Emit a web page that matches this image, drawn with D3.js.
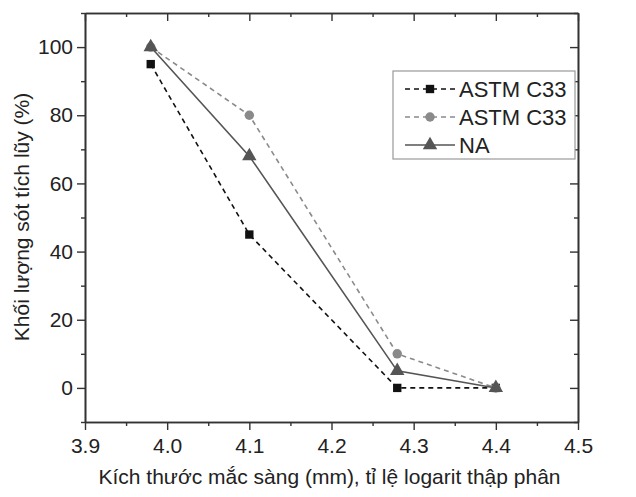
<!DOCTYPE html>
<html>
<head>
<meta charset="utf-8">
<script src="https://cdn.jsdelivr.net/npm/d3@7"></script>
<style>
  body { margin: 0; background: #fff; }
  svg text { font-family: "Liberation Sans", Arial, sans-serif; fill: #222; }
</style>
</head>
<body>
<div id="chart"></div>
<script>
const sieveLog = [3.98, 4.10, 4.28, 4.40];
const astmLower = [95, 45, 0, 0];
const astmUpper = [100, 80, 10, 0];
const naValues = [100, 68, 5, 0];
const seriesNames = ['ASTM C33', 'ASTM C33', 'NA'];
const xTicks = [3.9, 4.0, 4.1, 4.2, 4.3, 4.4, 4.5];
const yTicks = [0, 20, 40, 60, 80, 100];

function drawChart() {
    const W = 636, H = 497;
    const margin = { top: 13, right: 58, bottom: 75, left: 85 };
    const width = W - margin.left - margin.right;
    const height = H - margin.top - margin.bottom;

    const svg = d3.select('#chart').append('svg')
        .attr('width', W)
        .attr('height', H);

    const g = svg.append('g')
        .attr('transform', `translate(${margin.left},${margin.top})`);

    const x = d3.scaleLinear().domain([3.9, 4.5]).range([0, width]);
    const y = d3.scaleLinear().domain([-10, 110]).range([height, 0]);

    const minorX = d3.range(3.95, 4.5, 0.1);
    const minorY = d3.range(-10, 111, 20);

    // Axes (outward on bottom/left, inward on top/right)
    const axisStyle = sel => {
        sel.select('.domain').attr('stroke', '#333').attr('stroke-width', 1.6);
        sel.selectAll('.tick line').attr('stroke', '#333').attr('stroke-width', 1.4);
        sel.selectAll('.tick text').style('font-size', '21px').attr('fill', '#222');
    };

    g.append('g')
        .attr('transform', `translate(0,${height})`)
        .call(d3.axisBottom(x).tickValues(xTicks).tickFormat(d3.format('.1f')).tickSizeInner(8).tickSizeOuter(0).tickPadding(8))
        .call(axisStyle);
    g.append('g')
        .attr('transform', `translate(0,${height})`)
        .call(d3.axisBottom(x).tickValues(minorX).tickFormat('').tickSizeInner(4).tickSizeOuter(0))
        .call(axisStyle);

    g.append('g')
        .call(d3.axisLeft(y).tickValues(yTicks).tickSizeInner(8).tickSizeOuter(0).tickPadding(4))
        .call(axisStyle);
    g.append('g')
        .call(d3.axisLeft(y).tickValues(minorY).tickFormat('').tickSizeInner(4).tickSizeOuter(0))
        .call(axisStyle);

    g.append('g')
        .call(d3.axisTop(x).tickValues(xTicks).tickFormat('').tickSizeInner(-8).tickSizeOuter(0))
        .call(axisStyle);
    g.append('g')
        .call(d3.axisTop(x).tickValues(minorX).tickFormat('').tickSizeInner(-4).tickSizeOuter(0))
        .call(axisStyle);

    g.append('g')
        .attr('transform', `translate(${width},0)`)
        .call(d3.axisRight(y).tickValues(yTicks).tickFormat('').tickSizeInner(-8).tickSizeOuter(0))
        .call(axisStyle);
    g.append('g')
        .attr('transform', `translate(${width},0)`)
        .call(d3.axisRight(y).tickValues(minorY).tickFormat('').tickSizeInner(-4).tickSizeOuter(0))
        .call(axisStyle);

    // Axis labels
    g.append('text')
        .attr('transform', 'rotate(-90)')
        .attr('x', -204)
        .attr('y', -56)
        .style('text-anchor', 'middle')
        .style('font-size', '21px')
        .text('Khối lượng sót tích lũy (%)');

    g.append('text')
        .attr('x', width / 2 - 2)
        .attr('y', height + 62)
        .style('text-anchor', 'middle')
        .style('font-size', '21px')
        .text('Kích thước mắc sàng (mm), tỉ lệ logarit thập phân');

    const series = [
        { name: seriesNames[0], values: astmLower, color: '#111', dash: '5,4', symbol: d3.symbolSquare, size: 70 },
        { name: seriesNames[1], values: astmUpper, color: '#8a8a8a', dash: '5,4', symbol: d3.symbolCircle, size: 70 },
        { name: seriesNames[2], values: naValues, color: '#555', dash: null, symbol: d3.symbolTriangle, size: 90 }
    ];

    const line = d3.line()
        .x((d, i) => x(sieveLog[i]))
        .y(d => y(d));

    series.forEach(s => {
        g.append('path')
            .datum(s.values)
            .attr('fill', 'none')
            .attr('stroke', s.color)
            .attr('stroke-width', 1.6)
            .attr('stroke-dasharray', s.dash)
            .attr('d', line);
    });

    series.forEach(s => {
        g.selectAll(null)
            .data(s.values)
            .enter()
            .append('path')
            .attr('transform', (d, i) => `translate(${x(sieveLog[i])},${y(d)})`)
            .attr('d', d3.symbol().type(s.symbol).size(s.size))
            .attr('fill', s.color);
    });

    // Legend
    const legend = svg.append('g').attr('transform', 'translate(393,71)');
    legend.append('rect')
        .attr('width', 182)
        .attr('height', 88)
        .attr('fill', '#fff')
        .attr('stroke', '#999')
        .attr('stroke-width', 1.2);

    series.forEach((s, i) => {
        const row = legend.append('g').attr('transform', `translate(0,${18 + i * 28})`);
        row.append('line')
            .attr('x1', 12).attr('x2', 62)
            .attr('stroke', s.color)
            .attr('stroke-width', 1.6)
            .attr('stroke-dasharray', s.dash);
        row.append('path')
            .attr('transform', 'translate(37,0)')
            .attr('d', d3.symbol().type(s.symbol).size(s.size))
            .attr('fill', s.color);
        row.append('text')
            .attr('x', 66)
            .attr('y', 8)
            .style('font-size', '22px')
            .text(s.name);
    });
}

drawChart();
</script>
</body>
</html>
